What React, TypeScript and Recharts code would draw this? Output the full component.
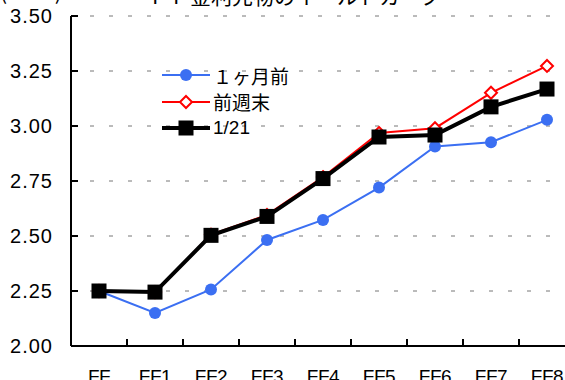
import React from 'react';
import { LineChart, Line, XAxis, YAxis, CartesianGrid, Legend } from 'recharts';

// contract months along the curve
const CATEGORIES = ['FF', 'FF1', 'FF2', 'FF3', 'FF4', 'FF5', 'FF6', 'FF7', 'FF8'];

// implied rates (%)
const MONTH_AGO = [2.25, 2.15, 2.257, 2.482, 2.573, 2.72, 2.907, 2.926, 3.028];
const LAST_WEEKEND = [2.25, 2.245, 2.506, 2.596, 2.768, 2.968, 2.99, 3.151, 3.273];
const JAN_21 = [2.25, 2.245, 2.503, 2.589, 2.761, 2.95, 2.959, 3.087, 3.168];

const SERIES_NAMES = ['１ヶ月前', '前週末', '1/21'];
const Y_TICKS = [2.0, 2.25, 2.5, 2.75, 3.0, 3.25, 3.5];

const chartData = CATEGORIES.map((c, i) => ({
  name: c,
  monthAgo: MONTH_AGO[i],
  lastWeekend: LAST_WEEKEND[i],
  jan21: JAN_21[i],
}));

const BLUE = '#3b6ff2';
const RED = '#ff0000';
const LATIN = '"Liberation Sans", Arial, sans-serif';
const CJK = '"Liberation Sans", "Noto Sans CJK JP", sans-serif';

const Y_GAP = 18;
const X_GAP = 22;

const circleDot = (p: any) => (
  <circle key={`c-${p.index}`} cx={p.cx} cy={p.cy} r={6} fill={BLUE} />
);

const diamondDot = (p: any) => (
  <path
    key={`d-${p.index}`}
    d={`M${p.cx},${p.cy - 6}L${p.cx + 6},${p.cy}L${p.cx},${p.cy + 6}L${p.cx - 6},${p.cy}Z`}
    fill="#fff"
    stroke={RED}
    strokeWidth={2}
  />
);

const squareDot = (p: any) => (
  <rect key={`s-${p.index}`} x={p.cx - 7.5} y={p.cy - 7.5} width={15} height={15} fill="#000" />
);

// y ticks point inward from the axis
function YTick(props: any) {
  const { x, y, payload } = props;
  const axisX = x + Y_GAP;
  return (
    <g>
      <path d={`M${axisX},${y}h7`} stroke="#000" strokeWidth={2} fill="none" />
      <text x={x} y={y} dy={7} textAnchor="end" fontSize={20} letterSpacing={1}
        fontFamily={LATIN} fill="#000">
        {Number(payload.value).toFixed(2)}
      </text>
    </g>
  );
}

// x ticks sit between categories, labels centred on them
function XTick(props: any) {
  const { x, y, payload } = props;
  const w = Number(props.width);
  const band = w > 0 ? w / CATEGORIES.length : 56;
  const axisY = y - X_GAP;
  const tx = x + band / 2;
  return (
    <g>
      <path d={`M${tx},${axisY}v-7`} stroke="#000" strokeWidth={2} fill="none" />
      <text x={x} y={y} dy={15} textAnchor="middle" fontSize={19} letterSpacing={-0.5}
        fontFamily={LATIN} fill="#000">
        {payload.value}
      </text>
    </g>
  );
}

function LegendBox() {
  const marks = [
    { stroke: BLUE, width: 2, dot: <circle cx={24} cy={10} r={6} fill={BLUE} /> },
    { stroke: RED, width: 2, dot: <path d="M24,4L30,10L24,16L18,10Z" fill="#fff" stroke={RED} strokeWidth={2} /> },
    { stroke: '#000', width: 4, dot: <rect x={16.5} y={2.5} width={15} height={15} fill="#000" /> },
  ];
  return (
    <div>
      {SERIES_NAMES.map((name, i) => (
        <div key={name} style={{ display: 'flex', alignItems: 'center', height: 26.5 }}>
          <svg width={48} height={20}>
            <line x1={0} x2={48} y1={10} y2={10} stroke={marks[i].stroke} strokeWidth={marks[i].width} />
            {marks[i].dot}
          </svg>
          <span style={{ fontSize: 19, fontFamily: CJK, marginLeft: 3, color: '#000', whiteSpace: 'nowrap' }}>
            {name}
          </span>
        </div>
      ))}
    </div>
  );
}

const titleStyle: React.CSSProperties = {
  position: 'absolute',
  fontSize: 21,
  lineHeight: '21px',
  fontFamily: '"Noto Sans CJK JP", sans-serif',
  whiteSpace: 'nowrap',
};

export default function App() {
  return (
    <div style={{ position: 'absolute', left: 0, top: 0, width: 565, height: 380, overflow: 'hidden', background: '#fff' }}>
      {/* title sits mostly above the visible area */}
      <div style={{ ...titleStyle, top: -19, left: 0, letterSpacing: 18 }}>(2)</div>
      <div style={{ ...titleStyle, top: -15, left: 148 }}>ＦＦ金利先物のイールドカーブ</div>
      <LineChart width={600} height={400} data={chartData}
        margin={{ top: 16, right: 25, bottom: 14, left: 0 }}>
        <CartesianGrid vertical={false} stroke="#777" strokeDasharray="4 15" />
        <XAxis dataKey="name" height={40} padding={{ left: 28, right: 28 }}
          axisLine={{ stroke: '#000', strokeWidth: 2 }} tickLine={false}
          tickSize={0} tickMargin={X_GAP} tick={<XTick />} interval={0} />
        <YAxis width={71} domain={[2, 3.5]} ticks={Y_TICKS} allowDataOverflow
          axisLine={{ stroke: '#000', strokeWidth: 2 }} tickLine={false}
          tickSize={0} tickMargin={Y_GAP} tick={<YTick />} interval={0} />
        <Legend layout="vertical" align="center" verticalAlign="middle"
          wrapperStyle={{ left: 162, top: 62, width: 'auto', height: 'auto' }}
          content={() => <LegendBox />} />
        <Line dataKey="monthAgo" name={SERIES_NAMES[0]} stroke={BLUE} strokeWidth={2}
          dot={circleDot} activeDot={false} isAnimationActive={false} />
        <Line dataKey="lastWeekend" name={SERIES_NAMES[1]} stroke={RED} strokeWidth={2}
          dot={diamondDot} activeDot={false} isAnimationActive={false} />
        <Line dataKey="jan21" name={SERIES_NAMES[2]} stroke="#000" strokeWidth={4}
          dot={squareDot} activeDot={false} isAnimationActive={false} />
      </LineChart>
    </div>
  );
}
